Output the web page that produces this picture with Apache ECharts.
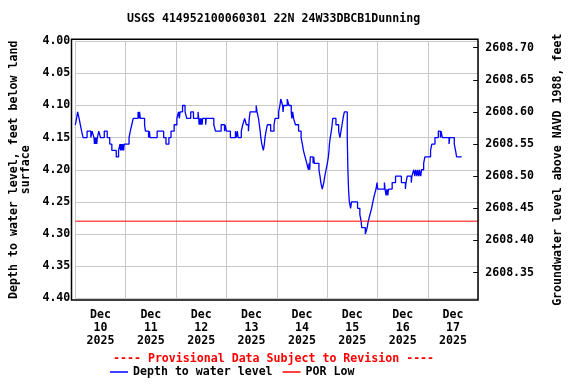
<!DOCTYPE html>
<html><head><meta charset="utf-8">
<script src="https://cdn.jsdelivr.net/npm/echarts@6/dist/echarts.min.js"></script>
<style>html,body{margin:0;padding:0;background:#fff}#c{width:576px;height:384px}</style>
</head><body><div id="c"></div>
<script>
const titleText = 'USGS 414952100060301 22N 24W33DBCB1Dunning';
const provisionalText = '---- Provisional Data Subject to Revision ----';
const xTickHours = [12, 36, 60, 84, 108, 132, 156, 180];
const xTickLabels = ['Dec\n10\n2025','Dec\n11\n2025','Dec\n12\n2025','Dec\n13\n2025','Dec\n14\n2025','Dec\n15\n2025','Dec\n16\n2025','Dec\n17\n2025'];
const rightTicks = [2608.35, 2608.40, 2608.45, 2608.50, 2608.55, 2608.60, 2608.65, 2608.70];
const landSurface = 2612.71;
const porLow = 4.28;
// hours since Dec 10 2025 00:00
const hours = [0.0,0.6,1.1,1.8,2.4,3.0,3.7,5.6,7.4,8.0,8.9,9.1,9.3,9.5,9.8,10.2,10.5,11.2,12.0,13.8,15.2,16.4,17.4,19.5,20.6,21.3,21.6,21.9,22.3,22.6,23.0,23.3,25.6,26.2,26.9,27.6,29.9,30.3,30.6,31.0,
33.0,33.4,34.9,35.3,35.6,39.0,42.1,43.2,44.6,45.6,47.1,48.4,49.2,49.6,49.9,51.1,52.3,53.1,55.0,56.3,58.5,58.8,59.0,59.4,59.7,60.0,60.4,60.7,62.1,62.4,
66.0,66.8,69.5,71.1,71.4,72.0,73.9,76.3,76.7,77.2,77.6,79.1,79.8,80.7,81.5,82.5,82.9,83.3,86.2,86.6,87.3,87.7,88.1,88.4,88.9,89.6,90.1,90.4,90.9,91.5,93.1,94.7,95.2,96.9,97.5,97.9,
98.8,99.0,99.3,101.0,101.8,102.9,103.2,103.6,104.0,104.9,106.4,107.6,108.2,108.7,109.5,110.3,111.1,111.4,111.7,112.0,113.3,113.6,113.9,116.1,116.6,117.0,117.7,118.4,118.9,119.5,120.1,120.6,120.9,121.1,121.5,122.0,122.4,122.7,
124.2,125.5,126.1,126.6,127.1,127.6,128.2,129.6,129.9,130.2,130.6,131.2,131.6,134.5,135.6,136.2,136.5,138.2,139.1,139.6,140.4,141.2,141.8,142.5,143.3,143.8,144.1,147.3,147.6,148.1,148.5,148.9,149.3,151.0,152.6,155.4,157.3,157.6,158.2,160.1,160.4,
161.3,161.8,162.2,162.8,163.1,163.7,164.0,164.6,165.0,166.0,166.6,169.3,169.9,171.4,173.0,174.0,174.3,174.9,178.1,178.4,180.6,181.2,181.7,184.1];
const depths = [4.13,4.12,4.11,4.12,4.13,4.14,4.15,4.14,4.15,4.14,4.15,4.16,4.15,4.16,4.15,4.16,4.15,4.14,4.15,4.14,4.15,4.16,4.17,4.18,4.17,4.16,4.17,4.16,4.17,4.16,4.17,4.16,4.15,4.14,4.13,4.12,4.11,4.12,4.11,4.12,
4.13,4.14,4.15,4.14,4.15,4.14,4.15,4.16,4.15,4.14,4.13,4.12,4.11,4.12,4.11,4.10,4.11,4.12,4.11,4.12,4.11,4.12,4.13,4.12,4.13,4.12,4.13,4.12,4.13,4.12,
4.13,4.14,4.13,4.14,4.13,4.14,4.15,4.14,4.15,4.14,4.15,4.14,4.13,4.12,4.13,4.14,4.12,4.11,4.10,4.11,4.12,4.13,4.14,4.15,4.16,4.17,4.16,4.15,4.14,4.13,4.14,4.13,4.12,4.11,4.10,4.09,
4.10,4.11,4.10,4.09,4.10,4.11,4.12,4.11,4.12,4.13,4.14,4.15,4.16,4.17,4.18,4.19,4.20,4.19,4.20,4.18,4.19,4.18,4.19,4.20,4.21,4.22,4.23,4.22,4.21,4.20,4.19,4.18,4.17,4.16,4.15,4.14,4.13,4.12,
4.13,4.14,4.15,4.14,4.13,4.12,4.11,4.15,4.20,4.23,4.25,4.26,4.25,4.26,4.27,4.28,4.29,4.30,4.29,4.28,4.27,4.26,4.25,4.24,4.23,4.22,4.23,4.22,4.23,4.24,4.23,4.24,4.23,4.22,4.21,4.22,4.23,4.22,4.21,4.22,4.21,
4.20,4.21,4.20,4.21,4.20,4.21,4.20,4.21,4.20,4.19,4.18,4.17,4.16,4.15,4.14,4.15,4.14,4.15,4.16,4.15,4.16,4.17,4.18,4.18];

const FONT = 'DejaVu Sans Mono';
const FS = 11.6;
const txt = (c) => ({ fontFamily: FONT, fontWeight: 'bold', fontSize: FS, color: c || '#000' });

const chart = echarts.init(document.getElementById('c'), null, { renderer: 'canvas' });
chart.setOption({
  animation: false,
  backgroundColor: '#fff',
  title: [
    { text: titleText, left: 127, top: 13, padding: 0, textStyle: txt('#000') },
    { text: provisionalText, left: 113, top: 352.5, padding: 0, textStyle: txt('#ff0000') }
  ],
  legend: {
    left: 110, top: 366, padding: 0, itemWidth: 18, itemHeight: 1.5, itemGap: 10, icon: 'rect',
    textStyle: txt('#000'),
    data: [
      { name: 'Depth to water level', icon: 'rect', itemStyle: { color: '#0000ff' } },
      { name: 'POR Low', icon: 'rect', itemStyle: { color: '#ff0000' } }
    ]
  },
  grid: { left: 71.5, right: 97.8, top: 41.2, bottom: 85.7 },
  xAxis: [
    { type: 'value', min: 0, max: 192, interval: 24, position: 'bottom',
      axisLine: { show: false, onZero: false }, axisTick: { show: false }, axisLabel: { show: false },
      splitLine: { show: true, lineStyle: { color: '#c8c8c8', width: 1 } } },
    { type: 'value', min: 0, max: 192, position: 'bottom',
      axisLine: { show: false, onZero: false }, axisTick: { show: false }, splitLine: { show: false },
      axisLabel: Object.assign({ customValues: xTickHours, margin: 10, lineHeight: 13,
        formatter: (v) => xTickLabels[xTickHours.indexOf(v)] }, txt('#000')) }
  ],
  yAxis: [
    { type: 'value', inverse: true, min: 4.0, max: 4.4, interval: 0.05,
      axisLine: { show: false, onZero: false }, axisTick: { show: false },
      splitLine: { show: true, lineStyle: { color: '#c8c8c8', width: 1 } },
      axisLabel: Object.assign({ margin: 5, formatter: (v) => v.toFixed(2) }, txt('#000')),
      name: 'Depth to water level, feet below land\nsurface', nameLocation: 'middle', nameRotate: 90, nameGap: 40,
      nameTextStyle: Object.assign({ lineHeight: 11.5 }, txt('#000')) },
    { type: 'value', position: 'right', min: landSurface - 4.40, max: landSurface - 4.00,
      axisLine: { show: false, onZero: false }, splitLine: { show: false },
      axisTick: { show: true, inside: true, length: 5, customValues: rightTicks, lineStyle: { color: '#000', width: 1 } },
      axisLabel: Object.assign({ customValues: rightTicks, margin: 7, formatter: (v) => v.toFixed(2) }, txt('#000')),
      name: 'Groundwater level above NAVD 1988, feet', nameLocation: 'middle', nameRotate: 90, nameGap: 74,
      nameTextStyle: txt('#000') }
  ],
  series: [
    { name: 'Depth to water level', type: 'line', step: 'end', xAxisIndex: 0, yAxisIndex: 0,
      data: hours.map((h, i) => [h, depths[i]]), symbol: 'none',
      lineStyle: { color: '#0000ff', width: 1.3 }, itemStyle: { color: '#0000ff' } },
    { name: 'POR Low', type: 'line', xAxisIndex: 0, yAxisIndex: 0,
      data: [[0, porLow], [192, porLow]], symbol: 'none',
      lineStyle: { color: '#ff0000', width: 1 }, itemStyle: { color: '#ff0000' } }
  ],
  graphic: [
    { type: 'rect', z: 100, silent: true, shape: { x: 71.5, y: 39.3, width: 406.5, height: 260.7 },
      style: { fill: 'none', stroke: '#000', lineWidth: 1.5 } }
  ]
});
</script></body></html>
